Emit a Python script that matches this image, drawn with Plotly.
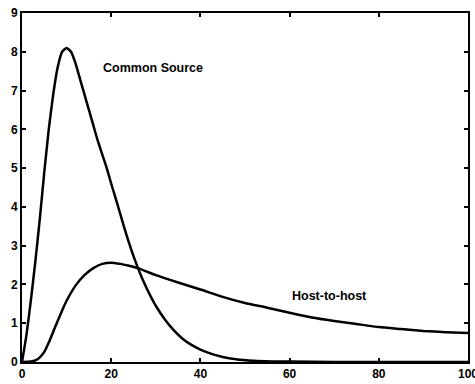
import plotly.graph_objects as go

# Common Source curve
cs_x = [0, 1, 2, 3, 4, 5, 6, 7, 8, 9, 10, 11, 12, 13, 14, 15, 16, 17, 18, 19, 20,
        21, 22, 23, 24, 25, 26, 27, 28, 29, 30, 32, 34, 36, 38, 40, 42, 45, 48, 52,
        56, 60, 70, 80, 90, 100]
cs_y = [0, 0.7, 1.6, 2.6, 3.7, 4.9, 6.0, 6.9, 7.6, 8.0, 8.1, 8.0, 7.7, 7.3, 6.9, 6.5,
        6.1, 5.7, 5.35, 5.0, 4.6, 4.22, 3.83, 3.44, 3.07, 2.73, 2.42, 2.14, 1.89, 1.66,
        1.45, 1.1, 0.82, 0.6, 0.44, 0.32, 0.23, 0.13, 0.07, 0.03, 0.015, 0.01, 0.0,
        0.0, 0.0, 0.0]

# Host-to-host curve
hh_x = [0, 2, 3, 4, 5, 6, 7, 8, 9, 10, 12, 14, 16, 18, 20, 22, 24, 26, 28, 30, 35,
        40, 45, 50, 55, 60, 65, 70, 75, 80, 85, 90, 95, 100]
hh_y = [0, 0.01, 0.04, 0.12, 0.26, 0.5, 0.78, 1.06, 1.33, 1.58, 1.97, 2.24, 2.42,
        2.53, 2.56, 2.53, 2.48, 2.42, 2.33, 2.24, 2.05, 1.87, 1.68, 1.52, 1.4, 1.27,
        1.15, 1.06, 0.98, 0.9, 0.85, 0.8, 0.77, 0.75]

x_ticks = [0, 20, 40, 60, 80, 100]
y_ticks = [0, 1, 2, 3, 4, 5, 6, 7, 8, 9]

labels = ["Common Source", "Host-to-host"]
label_x = [29.4, 69]
label_y = [7.58, 1.7]

fig = go.Figure()
fig.add_trace(go.Scatter(x=cs_x, y=cs_y, mode="lines",
                         line=dict(color="black", width=2.5, shape="spline", smoothing=0.5),
                         showlegend=False, cliponaxis=False))
fig.add_trace(go.Scatter(x=hh_x, y=hh_y, mode="lines",
                         line=dict(color="black", width=2.5, shape="spline", smoothing=0.5),
                         showlegend=False, cliponaxis=False))

for t, xx, yy in zip(labels, label_x, label_y):
    fig.add_annotation(x=xx, y=yy, text=t, showarrow=False,
                       font=dict(family="Liberation Sans", size=12.5, color="black", weight="bold"))

axis_common = dict(showgrid=False, zeroline=False, showline=True, linecolor="black",
                   linewidth=2, mirror="ticks", ticks="inside", ticklen=4,
                   tickwidth=2, tickcolor="black", automargin=False,
                   ticklabeloverflow="allow",
                   tickfont=dict(family="Liberation Sans", size=12, color="black", weight="bold"))

fig.update_xaxes(range=[0, 100], tickvals=x_ticks, ticktext=[str(v) for v in x_ticks],
                 **axis_common)
fig.update_yaxes(range=[0, 9], tickvals=y_ticks, ticktext=[str(v) for v in y_ticks],
                 **axis_common)

fig.update_layout(width=475, height=384, margin=dict(l=22, r=7, t=13, b=22),
                  plot_bgcolor="white", paper_bgcolor="white")

fig.write_html("out.html", config={"displayModeBar": False},
               post_script="document.body.style.margin='0';document.body.style.overflow='hidden';")
